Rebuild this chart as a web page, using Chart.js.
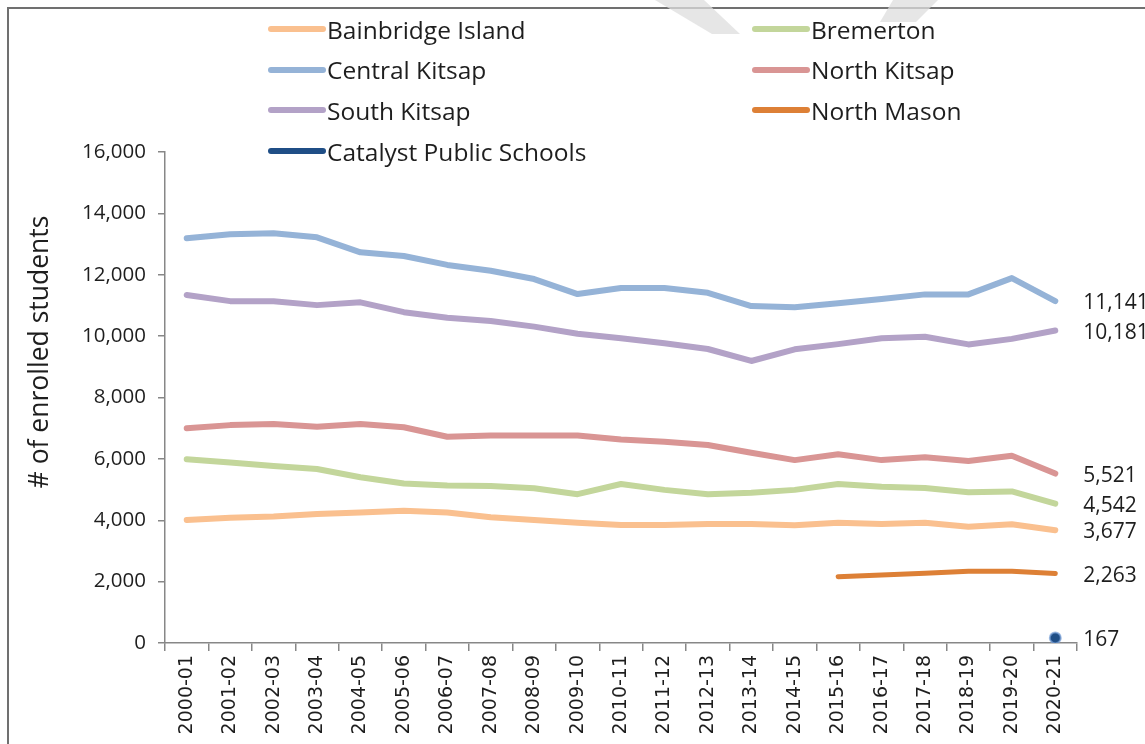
<!DOCTYPE html>
<html>
<head>
<meta charset="utf-8">
<title>Enrollment by district</title>
<script src="https://cdn.jsdelivr.net/npm/chart.js@4.4.1/dist/chart.umd.min.js"></script>
<style>
  body { margin: 0; background: #fff; }
  #wrap { position: relative; width: 1145px; height: 744px; overflow: hidden; background: #fff; }
  #frame { position: absolute; left: 7px; top: 7px; width: 1200px; height: 800px;
           border: 2px solid #707070; box-sizing: border-box; background: #fff; }
  #chart { position: absolute; left: 0; top: 0; }
  #shade { position: absolute; left: 0; top: 0; }
  #legend { position: absolute; left: 268px; top: 9px; display: grid;
            grid-template-columns: 484px 320px; grid-auto-rows: 40.6px;
            font: 24.5px 'Open Sans', sans-serif; color: #1e1e1e; }
  #legend .item { display: flex; align-items: center; white-space: nowrap; }
  #legend .swatch { width: 58px; height: 6px; border-radius: 3px; margin-right: 1px; }
</style>
</head>
<body>
<div id="wrap">
  <div id="frame"></div>
  <canvas id="chart" width="1145" height="744"></canvas>
  <div id="legend"></div>
  <svg id="shade" width="1145" height="60">
    <polygon points="655,0 704,0 740,34 712,34" fill="#dedede" fill-opacity="0.75"/>
    <polygon points="893,0 938,0 916,22 880,22" fill="#dedede" fill-opacity="0.75"/>
  </svg>
</div>
<script>
const years = ['2000-01', '2001-02', '2002-03', '2003-04', '2004-05', '2005-06', '2006-07',
  '2007-08', '2008-09', '2009-10', '2010-11', '2011-12', '2012-13', '2013-14', '2014-15',
  '2015-16', '2016-17', '2017-18', '2018-19', '2019-20', '2020-21'];

const bainbridge = [4010, 4080, 4120, 4200, 4250, 4310, 4250, 4100, 4010, 3920, 3845,
  3845, 3880, 3880, 3835, 3920, 3880, 3920, 3790, 3870, 3677];
const bremerton = [5990, 5880, 5770, 5670, 5400, 5200, 5130, 5120, 5040, 4850, 5180,
  4990, 4850, 4900, 4990, 5180, 5090, 5050, 4910, 4940, 4542];
const centralKitsap = [13190, 13320, 13350, 13220, 12730, 12610, 12320, 12130, 11860, 11370, 11570,
  11570, 11410, 10980, 10940, 11070, 11210, 11360, 11360, 11890, 11141];
const northKitsap = [7000, 7100, 7140, 7050, 7140, 7030, 6720, 6760, 6760, 6760, 6630,
  6560, 6450, 6200, 5960, 6150, 5960, 6050, 5930, 6100, 5521];
const southKitsap = [11340, 11140, 11140, 11010, 11100, 10780, 10600, 10490, 10310, 10080, 9930,
  9770, 9580, 9190, 9570, 9740, 9930, 9980, 9730, 9910, 10181];
const northMason = [null, null, null, null, null, null, null, null, null, null, null,
  null, null, null, null, 2160, 2215, 2270, 2335, 2335, 2263];
const catalyst = [null, null, null, null, null, null, null, null, null, null, null,
  null, null, null, null, null, null, null, null, null, 167];

const yTicks = [0, 2000, 4000, 6000, 8000, 10000, 12000, 14000, 16000];
const yTitle = '# of enrolled students';

const series = [
  { label: 'Bainbridge Island', data: bainbridge, color: '#fac08f' },
  { label: 'Bremerton', data: bremerton, color: '#c3d69b' },
  { label: 'Central Kitsap', data: centralKitsap, color: '#95b3d7' },
  { label: 'North Kitsap', data: northKitsap, color: '#d99594' },
  { label: 'South Kitsap', data: southKitsap, color: '#b3a2c7' },
  { label: 'North Mason', data: northMason, color: '#dd8036', width: 5 },
  { label: 'Catalyst Public Schools', data: catalyst, color: '#1f4e86', point: 5.5 },
];

const axisColor = '#878787';
const textColor = '#1e1e1e';
const fmt = v => v.toLocaleString('en-US');

// legend, two columns
const legend = document.getElementById('legend');
series.forEach(s => {
  const item = document.createElement('div');
  item.className = 'item';
  item.innerHTML = '<span class="swatch" style="background:' + s.color + '"></span>' + s.label;
  legend.appendChild(item);
});

// last value of each line written to its right
const endLabels = {
  id: 'endLabels',
  afterDatasetsDraw(chart) {
    const ctx = chart.ctx;
    ctx.save();
    ctx.font = '21px "Open Sans"';
    ctx.fillStyle = textColor;
    ctx.textBaseline = 'middle';
    chart.data.datasets.forEach((ds, i) => {
      const last = ds.data.length - 1;
      const pt = chart.getDatasetMeta(i).data[last];
      ctx.fillText(fmt(ds.data[last]), pt.x + 28, pt.y + 2);
    });
    ctx.restore();
  }
};

// y axis title sits a bit above the middle of the axis
const sideTitle = {
  id: 'sideTitle',
  afterDraw(chart) {
    const ctx = chart.ctx;
    ctx.save();
    ctx.translate(40, 352);
    ctx.rotate(-Math.PI / 2);
    ctx.font = '26.5px "Open Sans"';
    ctx.fillStyle = textColor;
    ctx.textAlign = 'center';
    ctx.textBaseline = 'middle';
    ctx.fillText(yTitle, 0, 0);
    ctx.restore();
  }
};

new Chart(document.getElementById('chart'), {
  type: 'line',
  data: {
    labels: years,
    datasets: series.map(s => ({
      label: s.label,
      data: s.data,
      borderColor: s.color,
      backgroundColor: s.color,
      borderWidth: s.width || 6,
      borderCapStyle: 'round',
      borderJoinStyle: 'round',
      pointRadius: s.point || 0,
      pointBorderWidth: s.point ? 2 : 0,
      pointBorderColor: 'rgba(120, 160, 215, 0.7)',
      tension: 0,
      spanGaps: false,
    }))
  },
  options: {
    responsive: false,
    animation: false,
    layout: { padding: { left: 10, right: 68, top: 152, bottom: 0 } },
    plugins: {
      legend: { display: false },
      tooltip: { enabled: false },
    },
    scales: {
      x: {
        offset: true,
        grid: { offset: true, drawOnChartArea: false, tickLength: 8, color: axisColor, lineWidth: 1.5 },
        border: { color: axisColor, width: 1.5 },
        ticks: {
          autoSkip: false, minRotation: 90, maxRotation: 90, padding: 4,
          color: textColor, font: { family: 'DejaVu Sans', size: 19 }
        },
        afterFit: scale => { scale.height = 101; },
      },
      y: {
        min: 0,
        max: 16000,
        afterBuildTicks: scale => { scale.ticks = yTicks.map(v => ({ value: v })); },
        grid: { drawOnChartArea: false, tickLength: 7, color: axisColor, lineWidth: 1.5 },
        border: { color: axisColor, width: 1.5 },
        ticks: {
          padding: 12, color: textColor,
          font: { family: 'Open Sans', size: 20.5 },
          callback: v => fmt(v),
        },
        afterFit: scale => { scale.width = 155; },
      }
    }
  },
  plugins: [endLabels, sideTitle]
});
</script>
</body>
</html>
